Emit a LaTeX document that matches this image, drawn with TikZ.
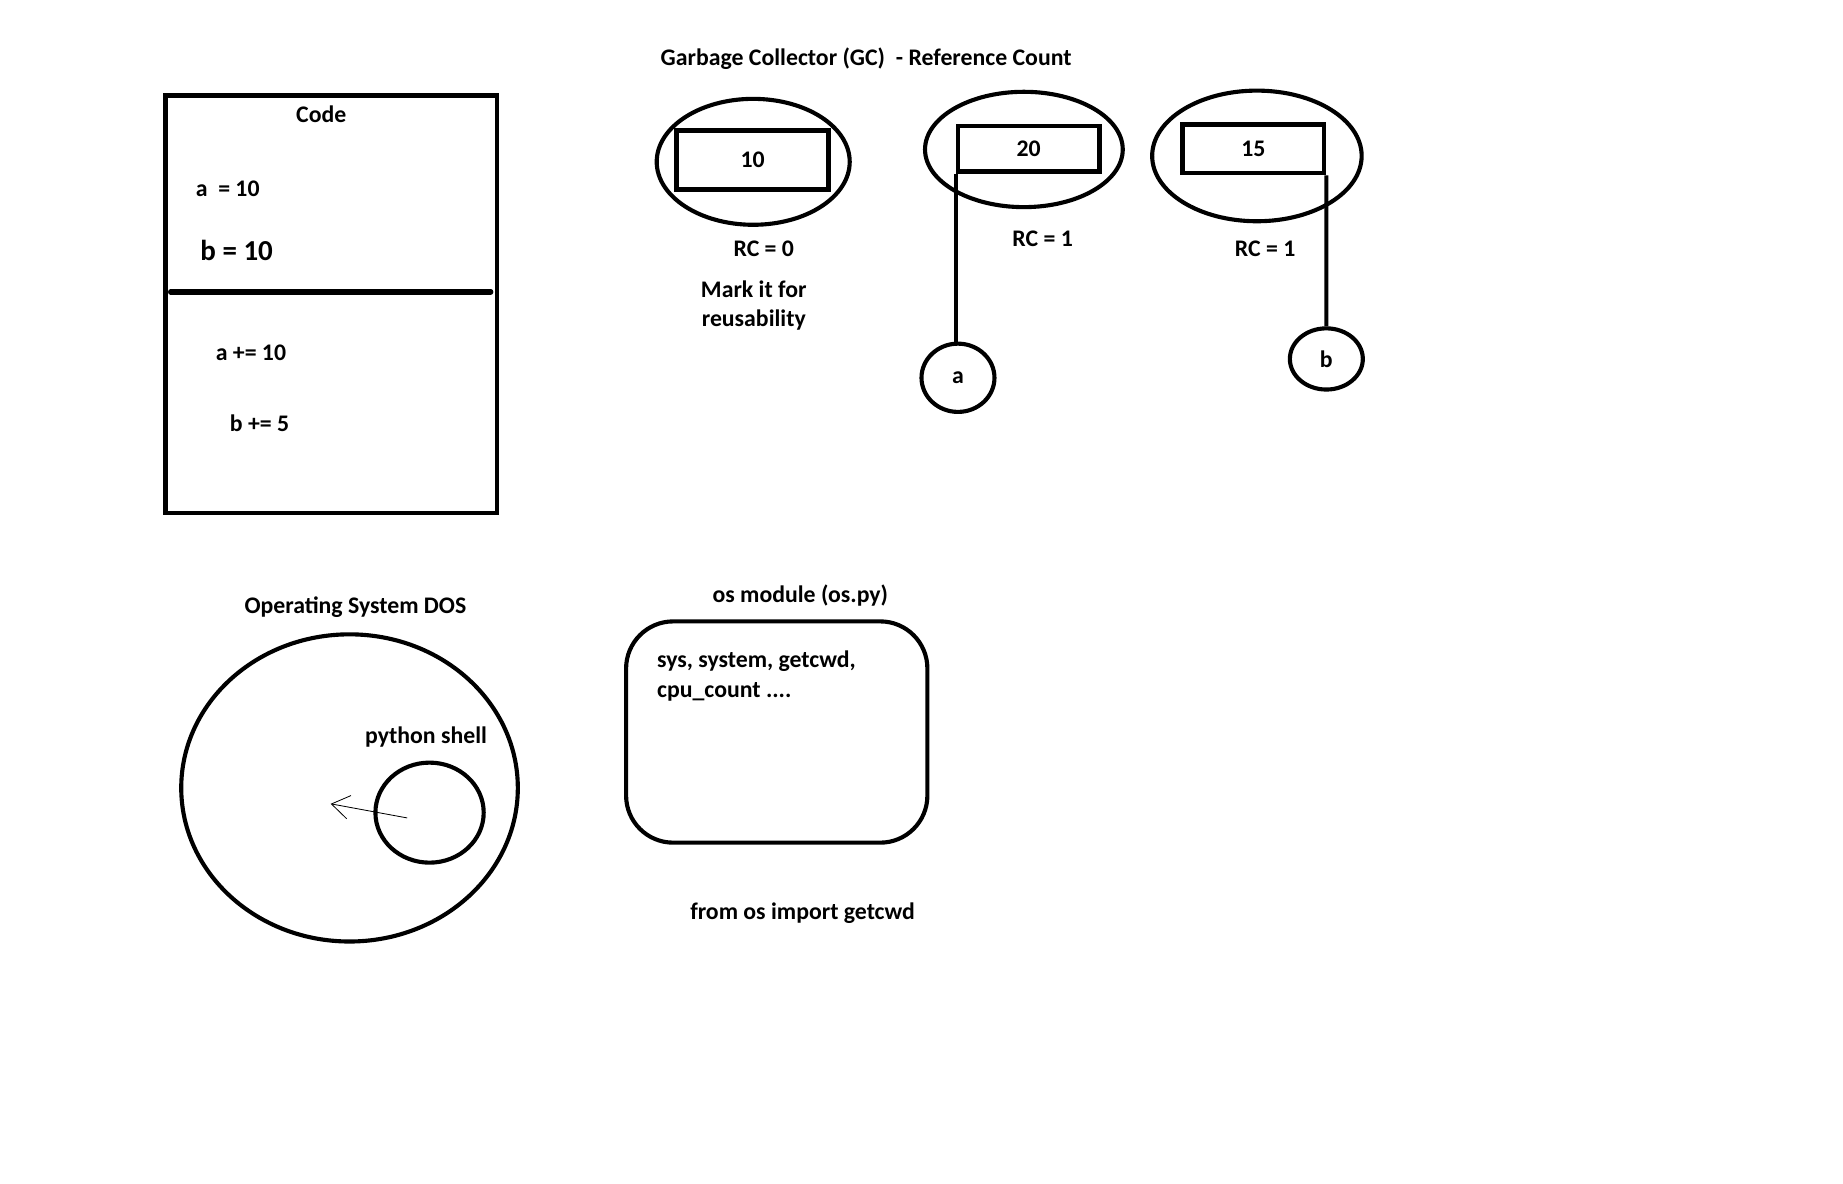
\documentclass[tikz,border=0pt]{standalone}
\usepackage{fontspec}
\setmainfont{Carlito}
\usetikzlibrary{shapes.geometric,arrows.meta}

\begin{document}
\begin{tikzpicture}[x=0.2mm,y=-0.2mm,
    txt/.style={font=\fontsize{11.5}{14.2}\selectfont\bfseries,inner sep=0pt},
    cell/.style={draw,line width=0.8mm,txt},
    blob/.style={draw,ellipse,line width=0.7mm,inner sep=0pt,txt},
    wire/.style={line width=0.7mm}]
    % Canvas
    \useasboundingbox (0,0) rectangle (1566,1006);
    % Code box
    \node[draw,line width=0.8mm,minimum width=56.3mm,minimum height=71mm] (code) at (281.5,258.5) {};
    \node[txt] (codetitle) at (273,97) {Code};
    \node[txt,anchor=west] (seta) at (166,160) {a\ \ = 10};
    \node[txt,anchor=west,font=\fontsize{14}{16}\selectfont\bfseries] (setb) at (170,213) {b = 10};
    \draw[line width=0.9mm,line cap=round] (145,248) -- (417,248);
    \node[txt,anchor=west] (adda) at (183,300) {a += 10};
    \node[txt,anchor=west] (addb) at (195,360) {b += 5};
    % Garbage collector
    \node[txt] (gctitle) at (736,50) {Garbage Collector (GC)\ \ - Reference Count};
    % Object 10
    \node[blob,minimum width=32.8mm,minimum height=21.4mm] (o10) at (640,137.5) {};
    \node[cell,minimum width=25.8mm,minimum height=10mm] (r10) at (639.5,136) {10};
    \node[txt] (rc10) at (649,211) {RC = 0};
    \node[txt,align=center] (mark) at (640.5,259.5) {Mark it for\\reusability};
    % Object 20
    \node[blob,minimum width=33.6mm,minimum height=19.6mm] (o20) at (870,127) {};
    \node[cell,minimum width=24mm,minimum height=7.8mm] (r20) at (874,126.5) {20};
    \node[txt] (rc20) at (886,203) {RC = 1};
    \node[blob,minimum width=12.4mm,minimum height=11.6mm] (va) at (814,321) {a};
    \draw[wire] (r20.south west) -- (r20.south west |- va.north);
    % Object 15
    \node[blob,minimum width=35.6mm,minimum height=22.2mm] (o15) at (1068,132.5) {};
    \node[cell,minimum width=24mm,minimum height=8.2mm] (r15) at (1065,126.5) {15};
    \node[txt] (rc15) at (1075,211) {RC = 1};
    \node[blob,minimum width=12.4mm,minimum height=10.4mm] (vb) at (1127,305) {b};
    \draw[wire] (r15.south east) -- (vb.north);
    % Operating system
    \node[txt] (ostitle) at (302,516) {Operating System DOS};
    \node[blob,minimum width=57.2mm,minimum height=52.2mm] (dos) at (297,669.5) {};
    \node[txt] (shelltitle) at (362,626) {python shell};
    \node[blob,minimum width=18.4mm,minimum height=17mm] (shell) at (365,690.5) {};
    \coordinate (ptail) at (346,695);
    \coordinate (phead) at (281,683);
    \draw[thin,-{Straight Barb[length=3mm,width=4mm]}] (ptail) -- (phead);
    % os module
    \node[txt] (modtitle) at (680,506) {os module (os.py)};
    \node[draw,line width=0.7mm,rounded corners=8mm,minimum width=51.2mm,minimum height=37.6mm] (mod) at (660,622) {};
    \node[txt,anchor=west] (funcs1) at (558,562) {sys, system, getcwd,};
    \node[txt,anchor=west] (funcs2) at (558,588) {cpu\_count ....};
    \node[txt] (imp) at (682,776) {from os import getcwd};
\end{tikzpicture}
\end{document}
